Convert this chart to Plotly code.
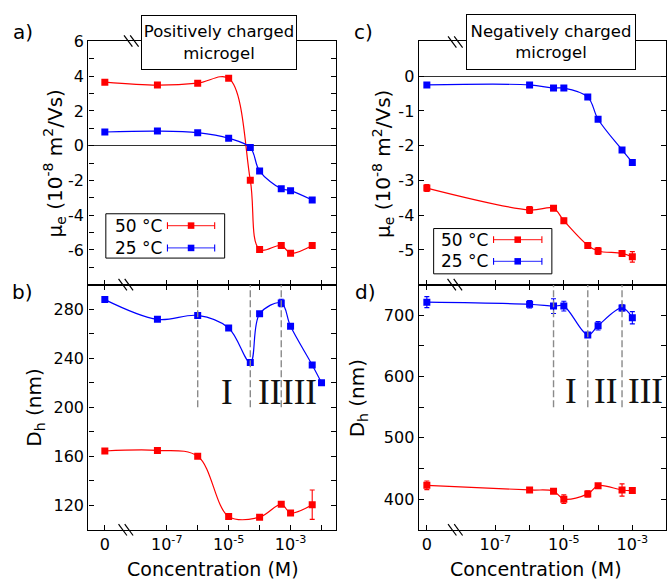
import math
import plotly.graph_objects as go

W, H = 667, 581
RED = '#ff0000'
BLUE = '#0000ff'
FONT = 'DejaVu Sans'
ZERO_AT = 1e-9  # where the "0" concentration is drawn on the broken log axis

# ---------------- data ----------------
# a) positively charged microgel, electrophoretic mobility (1e-8 m^2/Vs)
conc_a = [0, 5e-8, 1e-6, 1e-5, 5e-5, 1e-4, 5e-4, 1e-3, 5e-3]
mu_pos_50 = [3.66, 3.49, 3.60, 3.88, -1.99, -5.98, -5.74, -6.19, -5.74]
mu_pos_25 = [0.79, 0.84, 0.75, 0.43, -0.11, -1.46, -2.48, -2.59, -3.13]

# b) positively charged microgel, hydrodynamic diameter (nm)
conc_b_25 = [0, 5e-8, 1e-6, 1e-5, 5e-5, 1e-4, 5e-4, 1e-3, 5e-3, 1e-2]
dh_pos_25 = [287.8, 271.7, 274.9, 264.7, 236.5, 276.2, 285.1, 266.0, 234.4, 219.9]
dh_pos_25_err = [2, 1, 1, 1, 1, 1, 3, 1, 1, 1]
conc_b_50 = [0, 5e-8, 1e-6, 1e-5, 1e-4, 5e-4, 1e-3, 5e-3]
dh_pos_50 = [164.3, 164.8, 160.0, 110.9, 110.3, 120.8, 113.8, 120.5]
dh_pos_50_err = [1, 1, 1, 1, 1, 1, 1, 12]

# c) negatively charged microgel, electrophoretic mobility
conc_c = [0, 1e-6, 5e-6, 1e-5, 5e-5, 1e-4, 5e-4, 1e-3]
mu_neg_25 = [-0.25, -0.25, -0.34, -0.34, -0.60, -1.24, -2.12, -2.48]
mu_neg_25_err = [0.02, 0.02, 0.02, 0.02, 0.02, 0.02, 0.02, 0.02]
mu_neg_50 = [-3.22, -3.85, -3.80, -4.16, -4.87, -5.03, -5.10, -5.20]
mu_neg_50_err = [0.10, 0.10, 0.05, 0.07, 0.07, 0.10, 0.06, 0.15]

# d) negatively charged microgel, hydrodynamic diameter
conc_d = [0, 1e-6, 5e-6, 1e-5, 5e-5, 1e-4, 5e-4, 1e-3]
dh_neg_25 = [721.5, 718, 715, 715, 668, 683, 712, 696]
dh_neg_25_err = [9, 6, 12, 8, 3, 7, 5, 10]
dh_neg_50 = [422.6, 415, 413, 400, 408.6, 422, 415, 414]
dh_neg_50_err = [7, 3, 3, 7, 5, 3, 10, 3]

# regime boundaries and labels
bounds_b = [1e-6, 5e-5, 5e-4]
bounds_b_y = [200, 300]
bounds_d = [5e-6, 5e-5, 5e-4]
bounds_d_y = [550, 750]
regimes = ['I', 'II', 'III']
regime_b_x = [10 ** -5.06, 10 ** -3.68, 10 ** -2.70]
regime_b_y = 212
regime_d_x = [10 ** -4.80, 10 ** -3.78, 10 ** -2.61]
regime_d_y = 575

x_tickvals = [1e-9, 1e-7, 1e-6, 1e-5, 1e-4, 1e-3, 1e-2]
x_ticktext = ['0', '10<sup>-7</sup>', '', '10<sup>-5</sup>', '', '10<sup>-3</sup>', '']

legend_labels = ['50 °C', '25 °C']


def pos(c):
    return [ZERO_AT if v == 0 else v for v in c]


def px(x):
    return x / W


def py(y):
    return 1 - y / H


# ---------------- figure ----------------
fig = go.Figure()


def add_series(x, y, color, xa, ya, err=None):
    t = go.Scatter(
        x=pos(x), y=y, mode='lines+markers', xaxis=xa, yaxis=ya,
        line=dict(color=color, width=1.2, shape='spline', smoothing=1.0),
        marker=dict(symbol='square', size=7, color=color, line=dict(width=0)),
        showlegend=False, hoverinfo='skip')
    if err is not None:
        t.error_y = dict(type='data', array=err, visible=True, color=color,
                         thickness=1.1, width=2.5)
    fig.add_trace(t)


add_series(conc_a, mu_pos_50, RED, 'x', 'y')
add_series(conc_a, mu_pos_25, BLUE, 'x', 'y')
add_series(conc_b_25, dh_pos_25, BLUE, 'x2', 'y2', dh_pos_25_err)
add_series(conc_b_50, dh_pos_50, RED, 'x2', 'y2', dh_pos_50_err)
add_series(conc_c, mu_neg_25, BLUE, 'x3', 'y3', mu_neg_25_err)
add_series(conc_c, mu_neg_50, RED, 'x3', 'y3', mu_neg_50_err)
add_series(conc_d, dh_neg_25, BLUE, 'x4', 'y4', dh_neg_25_err)
add_series(conc_d, dh_neg_50, RED, 'x4', 'y4', dh_neg_50_err)

# dashed regime boundaries
for xs, ys, xa, ya in [(bounds_b, bounds_b_y, 'x2', 'y2'), (bounds_d, bounds_d_y, 'x4', 'y4')]:
    for b in xs:
        fig.add_trace(go.Scatter(
            x=[b, b], y=ys, mode='lines', xaxis=xa, yaxis=ya,
            line=dict(color='#8a8a8a', width=1.4, dash='7px,3px'),
            showlegend=False, hoverinfo='skip'))

# ---------------- axes ----------------
left_dom = [px(88.5), px(336.7)]
right_dom = [px(419.3), 1.0]
top_dom = [py(280), py(33)]
bot_dom = [py(529), py(280)]
left_range = [-9.532, -1.526]
right_range = [-9.239, -2.017]

tickfont = dict(family=FONT, size=16, color='black')
common = dict(showline=True, linecolor='black', linewidth=1.3, ticks='inside',
              ticklen=5, tickwidth=1.1, tickcolor='black', showgrid=False,
              zeroline=False, tickfont=tickfont)


def xaxis(dom, rng, anchor, labels, mirror):
    return dict(common, domain=dom, range=rng, type='log', anchor=anchor,
                tickmode='array', tickvals=x_tickvals,
                ticktext=x_ticktext if labels else [''] * len(x_tickvals),
                showticklabels=labels, mirror=mirror)


def yaxis(dom, rng, anchor, step, labstep, zero=False, label_top=False):
    n = int(round((rng[1] - rng[0]) / step))
    vals = [rng[0] + i * step for i in range(n + 1)]
    texts = []
    for v in vals:
        k = v / labstep
        ok = abs(k - round(k)) < 1e-6 and v != rng[0] and (v != rng[1] or label_top)
        texts.append(str(int(round(v))) if ok else '')
    d = dict(common, domain=dom, range=rng, anchor=anchor, tickmode='array',
             tickvals=vals, ticktext=texts, mirror='ticks')
    if zero:
        d.update(zeroline=True, zerolinecolor='#333333', zerolinewidth=1.3)
    return d


fig.update_layout(
    width=W, height=H,
    margin=dict(l=0, r=0, t=0, b=0, pad=0),
    paper_bgcolor='white', plot_bgcolor='white',
    font=dict(family=FONT, color='black'),
    xaxis=xaxis(left_dom, left_range, 'y', False, True),
    yaxis=yaxis(top_dom, [-8, 6], 'x', 1, 2, zero=True, label_top=True),
    xaxis2=xaxis(left_dom, left_range, 'y2', True, 'ticks'),
    yaxis2=yaxis(bot_dom, [100, 300], 'x2', 20, 40),
    xaxis3=xaxis(right_dom, right_range, 'y3', False, True),
    yaxis3=yaxis(top_dom, [-6, 1], 'x3', 1, 1, zero=True),
    xaxis4=xaxis(right_dom, right_range, 'y4', True, 'ticks'),
    yaxis4=yaxis(bot_dom, [350, 750], 'x4', 50, 100),
)

ann = []
shapes = []


def text(x, y, s, size, **kw):
    d = dict(x=px(x), y=py(y), xref='paper', yref='paper', text=s, showarrow=False,
             font=dict(family=FONT, size=size, color='black'),
             xanchor='center', yanchor='middle')
    d.update(kw)
    ann.append(d)


# panel letters
text(23, 23, 'a)', 20)
text(23, 287, 'b)', 20)
text(364, 23, 'c)', 20)
text(366, 287, 'd)', 20)

# axis titles
mu_title = 'μ<sub>e</sub> (10<sup>-8</sup> m<sup>2</sup>/Vs)'
dh_title = 'D<sub>h</sub> (nm)'
text(55, 157, mu_title, 20, textangle=-90)
text(35, 405, dh_title, 20, textangle=-90)
text(384, 157, mu_title, 20, textangle=-90)
text(358, 395, dh_title, 20, textangle=-90)
text(213, 569, 'Concentration (M)', 19)
text(537, 569, 'Concentration (M)', 19)

# title boxes
for cx, cy, w, h, s in [(219, 34.5, 154, 53, 'Positively charged<br>microgel'),
                         (552, 34, 168, 54, 'Negatively charged<br>microgel')]:
    text(cx, cy, s, 16.5, bgcolor='white', bordercolor='black', borderwidth=1,
         borderpad=0, width=w, height=h)

# regime labels
for xs, yv, xa, ya in [(regime_b_x, regime_b_y, 'x2', 'y2'), (regime_d_x, regime_d_y, 'x4', 'y4')]:
    for r, xv in zip(regimes, xs):
        ann.append(dict(x=math.log10(xv), y=yv, xref=xa, yref=ya, text=r,
                        showarrow=False,
                        font=dict(family='Liberation Serif', size=35, color='#111111'),
                        xanchor='center', yanchor='middle'))

# break marks on the axes
for cx, cy in [(131.5, 32.5), (126, 280), (126, 529), (456, 33.5), (455.5, 280), (456, 529)]:
    for dx in (-3.1, 3.1):
        shapes.append(dict(type='line', xref='paper', yref='paper',
                           x0=px(cx + dx - 4.2), y0=py(cy - 5.8),
                           x1=px(cx + dx + 4.2), y1=py(cy + 5.8),
                           line=dict(color='black', width=1.2), layer='above'))

# custom legends (label left, error-bar symbol right)
for (bx0, by0, bx1, by1, tx, lx0, lx1, ys) in [
        (106, 208, 225, 253, 113, 167.7, 215, [220, 242.7]),
        (434.3, 223, 552.7, 269, 440, 494.3, 542.7, [234.3, 256.3])]:
    shapes.append(dict(type='rect', xref='paper', yref='paper', x0=px(bx0), y0=py(by0),
                       x1=px(bx1), y1=py(by1), line=dict(color='black', width=1),
                       fillcolor='white', layer='above'))
    for lab, col, lcol, yy in zip(legend_labels, [RED, BLUE], ['#ff4040', '#5050ff'], ys):
        text(tx, yy, lab, 17, xanchor='left')
        shapes.append(dict(type='line', xref='paper', yref='paper', x0=px(lx0), x1=px(lx1),
                           y0=py(yy), y1=py(yy), line=dict(color=lcol, width=1.2), layer='above'))
        for ex in (lx0, lx1):
            shapes.append(dict(type='line', xref='paper', yref='paper', x0=px(ex), x1=px(ex),
                               y0=py(yy - 3.5), y1=py(yy + 3.5),
                               line=dict(color=col, width=1.1), layer='above'))
        mx = (lx0 + lx1) / 2
        shapes.append(dict(type='rect', xref='paper', yref='paper', x0=px(mx - 3.3),
                           x1=px(mx + 3.3), y0=py(yy - 3.3), y1=py(yy + 3.3),
                           line=dict(width=0), fillcolor=col, layer='above'))

fig.update_layout(annotations=ann, shapes=shapes)
fig.write_html('out.html')
